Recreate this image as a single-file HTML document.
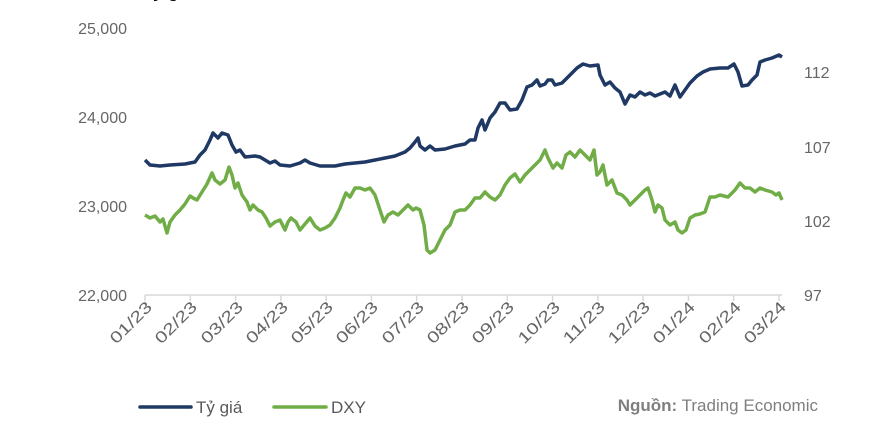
<!DOCTYPE html>
<html><head><meta charset="utf-8"><style>
body{margin:0;background:#fff;width:880px;height:436px;overflow:hidden;font-family:"Liberation Sans",sans-serif}
</style></head><body>
<svg width="880" height="436" viewBox="0 0 880 436" xmlns="http://www.w3.org/2000/svg" font-family="Liberation Sans, sans-serif">
<text x="142" y="-3" font-size="18" font-weight="bold" fill="#000">Tỷ giá</text>
<g font-size="16" fill="#666" text-anchor="end">
<text x="127" y="34">25,000</text><text x="127" y="123">24,000</text><text x="127" y="212">23,000</text><text x="127" y="301">22,000</text>
</g>
<g font-size="16" fill="#666">
<text x="804" y="78">112</text><text x="804" y="153">107</text><text x="804" y="227">102</text><text x="804" y="301">97</text>
</g>
<line x1="145" y1="295" x2="782" y2="295" stroke="#d9d9d9" stroke-width="1.5"/>
<g stroke="#d9d9d9" stroke-width="1.5">
<line x1="145" y1="295" x2="145" y2="301"/><line x1="190.3" y1="295" x2="190.3" y2="301"/><line x1="235.6" y1="295" x2="235.6" y2="301"/><line x1="280.9" y1="295" x2="280.9" y2="301"/><line x1="326.1" y1="295" x2="326.1" y2="301"/><line x1="371.4" y1="295" x2="371.4" y2="301"/><line x1="416.7" y1="295" x2="416.7" y2="301"/><line x1="462" y1="295" x2="462" y2="301"/><line x1="507.3" y1="295" x2="507.3" y2="301"/><line x1="552.6" y1="295" x2="552.6" y2="301"/><line x1="597.9" y1="295" x2="597.9" y2="301"/><line x1="643.1" y1="295" x2="643.1" y2="301"/><line x1="688.4" y1="295" x2="688.4" y2="301"/><line x1="733.7" y1="295" x2="733.7" y2="301"/><line x1="779" y1="295" x2="779" y2="301"/>
</g>
<g font-size="16" fill="#666" text-anchor="end">
<text transform="translate(153,308) rotate(-45)" textLength="52" lengthAdjust="spacingAndGlyphs">01/23</text>
<text transform="translate(198,308) rotate(-45)" textLength="52" lengthAdjust="spacingAndGlyphs">02/23</text>
<text transform="translate(244,308) rotate(-45)" textLength="52" lengthAdjust="spacingAndGlyphs">03/23</text>
<text transform="translate(289,308) rotate(-45)" textLength="52" lengthAdjust="spacingAndGlyphs">04/23</text>
<text transform="translate(334,308) rotate(-45)" textLength="52" lengthAdjust="spacingAndGlyphs">05/23</text>
<text transform="translate(379,308) rotate(-45)" textLength="52" lengthAdjust="spacingAndGlyphs">06/23</text>
<text transform="translate(425,308) rotate(-45)" textLength="52" lengthAdjust="spacingAndGlyphs">07/23</text>
<text transform="translate(470,308) rotate(-45)" textLength="52" lengthAdjust="spacingAndGlyphs">08/23</text>
<text transform="translate(515,308) rotate(-45)" textLength="52" lengthAdjust="spacingAndGlyphs">09/23</text>
<text transform="translate(561,308) rotate(-45)" textLength="52" lengthAdjust="spacingAndGlyphs">10/23</text>
<text transform="translate(606,308) rotate(-45)" textLength="52" lengthAdjust="spacingAndGlyphs">11/23</text>
<text transform="translate(651,308) rotate(-45)" textLength="52" lengthAdjust="spacingAndGlyphs">12/23</text>
<text transform="translate(696,308) rotate(-45)" textLength="52" lengthAdjust="spacingAndGlyphs">01/24</text>
<text transform="translate(742,308) rotate(-45)" textLength="52" lengthAdjust="spacingAndGlyphs">02/24</text>
<text transform="translate(787,308) rotate(-45)" textLength="52" lengthAdjust="spacingAndGlyphs">03/24</text>
</g>
<polyline fill="none" stroke="#1f3864" stroke-width="3.5" stroke-linejoin="round" points="145,160 150,165 160,166 170,165 185,164 195,162 200,155 205,150 210,140 213,133 218,138 222,133 228,135 232,145 236,152 240,150 245,157 255,156 260,157 265,160 270,163 275,161 280,165 290,166 300,163 305,160 310,163 320,166 335,166 345,164 355,163 365,162 375,160 385,158 395,156 405,152 410,148 415,142 418,138 420,146 425,150 430,146 435,150 445,149 455,146 465,144 470,140 475,140 478,128 482,120 485,130 490,118 495,112 500,103 505,103 510,110 517,109 522,100 527,87 532,85 537,80 540,86 545,84 548,80 552,80 555,85 562,83 570,75 577,68 583,64 590,66 598,65 600,75 605,85 610,82 615,88 620,92 625,104 630,95 635,97 640,92 645,95 650,93 655,96 660,94 665,92 670,96 675,85 680,97 685,90 690,83 697,76 703,72 710,69 720,68 728,68 734,64 738,72 742,86 748,85 752,80 757,75 760,62 765,60 772,58 779,55 782,57"/>
<polyline fill="none" stroke="#70ad47" stroke-width="3.5" stroke-linejoin="round" points="145,215 150,218 155,216 160,222 163,219 167,233 170,222 175,215 180,210 185,204 190,196 193,198 197,200 202,192 207,184 212,173 215,180 220,184 225,180 229,167 232,175 235,188 238,183 242,195 247,202 250,210 253,205 258,210 262,212 266,218 270,226 275,222 280,220 285,230 288,222 291,218 296,222 300,230 305,224 310,218 315,226 320,230 325,228 330,225 335,218 340,208 343,200 346,193 350,197 355,188 360,188 365,190 370,188 375,195 380,210 384,222 388,215 393,212 398,215 403,210 408,205 413,210 416,208 420,210 424,225 427,250 430,253 435,250 440,240 445,230 450,225 455,212 460,210 465,210 470,205 475,198 480,198 485,192 490,197 495,200 500,195 505,185 510,178 515,174 520,182 525,175 530,170 535,165 540,160 545,150 548,158 553,168 557,163 562,168 566,155 570,152 575,157 580,150 585,155 590,160 594,150 597,175 600,172 603,165 607,185 612,180 617,193 622,195 627,200 630,205 635,200 640,195 645,190 648,188 652,200 655,212 658,205 662,208 665,220 670,225 675,222 678,230 682,233 686,230 690,218 695,215 700,214 705,212 710,197 715,197 720,195 728,197 735,190 740,183 745,188 750,188 755,192 760,188 765,190 772,192 776,195 779,193 782,200"/>
<line x1="140" y1="407" x2="191" y2="407" stroke="#1f3864" stroke-width="3.5" stroke-linecap="round"/>
<text x="196" y="413" font-size="17" fill="#595959">Tỷ giá</text>
<line x1="274" y1="407" x2="326" y2="407" stroke="#70ad47" stroke-width="3.5" stroke-linecap="round"/>
<text x="331" y="413" font-size="17" fill="#595959">DXY</text>
<text x="818" y="411" font-size="17" fill="#7f7f7f" text-anchor="end"><tspan font-weight="bold">Nguồn:</tspan> Trading Economic</text>
</svg>
</body></html>
